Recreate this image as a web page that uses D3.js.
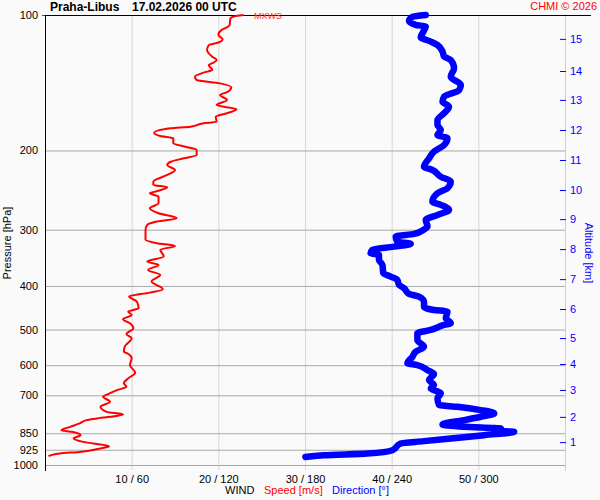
<!DOCTYPE html>
<html>
<head>
<meta charset="utf-8">
<script src="https://cdn.jsdelivr.net/npm/d3@7"></script>
<style>
	body { margin: 0; background: #fafafa; }
	svg { display: block; font-family: 'Liberation Sans', Arial, sans-serif; }
</style>
</head>
<body>
<svg width="600" height="500"></svg>
<script>
// pressure levels on the left axis
const pressureTicks = [200, 300, 400, 500, 600, 700, 850, 925, 1000];

// wind ticks (speed value) and their labels speed / direction
const windTicks = [10, 20, 30, 40, 50];
const windTickLabels = ['10 / 60', '20 / 120', '30 / 180', '40 / 240', '50 / 300'];

// altitude ticks on the right axis, km and the pressure they sit at
const altitudeKm = [1, 2, 3, 4, 5, 6, 7, 8, 9, 10, 11, 12, 13, 14, 15];
const altitudePressure = [889.5, 781.7, 681.1, 596.3, 522.3, 450.2, 386.3, 331.3, 284.2, 244.9, 210.0, 180.1, 154.4, 133.2, 113.0];

// wind speed profile [hPa], [m/s]
const speedPressure = [
	100.0, 100.4, 101.7, 105.2, 107.0, 107.9, 110.7, 113.2, 115.6, 116.6, 119.6, 123.8, 125.9, 128.0, 129.1, 132.5,
	134.3, 137.1, 139.5, 141.9, 144.8, 148.1, 150.6, 154.5, 158.5, 162.0, 165.3, 168.3, 172.6, 174.0, 177.1, 178.5,
	182.6, 185.8, 187.9, 192.8, 196.2, 199.5, 204.8, 208.2, 211.9, 215.4, 221.0, 226.7, 234.6, 238.6, 241.4, 246.9,
	248.9, 253.3, 262.0, 268.8, 275.7, 282.8, 287.8, 292.7, 300.2, 316.0, 321.4, 325.9, 332.6, 344.2, 353.2, 359.2,
	368.5, 378.0, 391.2, 406.7, 413.9, 422.4, 433.4, 448.3, 456.2, 464.0, 474.3, 484.1, 496.7, 511.5, 522.9, 545.9,
	560.1, 564.7, 579.4, 599.6, 623.7, 641.9, 658.5, 670.1, 681.6, 695.6, 705.3, 723.6, 742.4, 761.7, 772.0, 787.9,
	794.8, 808.4, 822.6, 836.7, 844.0, 858.4, 873.1, 888.4, 908.2, 919.0, 935.2, 942.9, 955.9
];
const speedValues = [
	22.9, 22.2, 21.4, 21.3, 20.8, 20.4, 20.0, 20.5, 19.7, 18.9, 18.7, 19.3, 19.8, 19.3, 18.9, 19.3,
	18.3, 17.3, 17.5, 20.2, 21.5, 21.1, 20.2, 21.0, 19.8, 22.1, 21.0, 19.7, 19.8, 18.3, 16.8, 14.5,
	12.6, 13.3, 14.8, 14.8, 16.2, 17.5, 17.5, 16.0, 14.5, 14.1, 15.0, 14.1, 12.5, 12.5, 14.1, 12.7,
	12.1, 13.1, 13.1, 12.1, 13.1, 15.2, 12.9, 11.8, 11.6, 11.6, 12.9, 15.0, 13.3, 13.7, 11.8, 13.1,
	11.9, 13.3, 12.3, 13.6, 12.1, 9.7, 10.6, 10.8, 9.6, 10.0, 9.0, 9.8, 10.2, 9.4, 10.0, 9.2,
	9.1, 9.5, 10.0, 9.8, 10.4, 9.6, 9.1, 9.4, 8.3, 7.3, 6.7, 7.5, 6.4, 7.1, 9.0, 6.0,
	4.8, 4.0, 2.9, 1.9, 3.1, 4.1, 3.3, 4.4, 7.4, 6.4, 4.0, 1.7, 0.4
];

// wind direction profile [hPa], [deg]
const dirPressure = [
	100.0, 100.9, 103.0, 105.2, 106.1, 109.8, 112.0, 114.6, 116.6, 120.6, 123.7, 125.9, 131.3, 137.1, 143.1, 146.8,
	151.9, 155.8, 159.9, 165.3, 171.2, 175.6, 180.1, 184.8, 187.9, 194.5, 201.2, 208.2, 217.3, 221.0, 228.7, 234.6,
	242.6, 248.9, 259.9, 264.2, 271.1, 278.1, 285.3, 295.3, 300.2, 306.5, 310.8, 318.9, 322.6, 327.1, 332.6, 338.3,
	341.2, 350.1, 359.2, 374.7, 381.3, 387.7, 397.7, 404.5, 416.5, 422.4, 433.4, 444.8, 452.3, 456.2, 471.9, 484.1,
	488.4, 501.1, 509.6, 527.5, 545.9, 560.1, 574.8, 594.5, 599.6, 615.2, 627.9, 647.6, 664.3, 675.6, 693.1, 711.1,
	735.9, 742.4, 755.0, 767.9, 781.4, 794.8, 812.5, 822.6, 829.4, 839.8, 844.0, 858.4, 873.1, 885.0, 895.5, 926.8,
	942.9, 951.2, 959.5
];
const dirValues = [
	263.6, 254.4, 252.0, 256.6, 263.6, 261.3, 260.1, 267.1, 271.7, 275.2, 276.3, 280.9, 283.2, 280.9, 287.9, 286.7,
	276.3, 275.2, 279.7, 276.3, 271.7, 271.7, 274.0, 271.7, 278.6, 276.3, 269.3, 265.9, 262.4, 268.2, 274.0, 280.9,
	278.6, 271.7, 268.2, 274.0, 279.7, 271.7, 263.6, 264.8, 262.0, 255.5, 242.8, 243.9, 253.2, 241.6, 226.6, 225.4,
	231.2, 231.2, 233.6, 234.2, 239.3, 243.9, 245.1, 248.5, 252.0, 258.9, 262.4, 262.4, 269.3, 278.6, 277.5, 280.9,
	276.3, 267.1, 257.8, 257.8, 262.4, 256.6, 254.4, 250.9, 257.8, 264.8, 269.3, 265.9, 269.3, 267.1, 274.0, 271.7,
	272.8, 285.6, 301.7, 311.0, 301.7, 290.2, 275.2, 290.2, 315.6, 311.0, 324.8, 304.0, 280.9, 262.4, 246.2, 240.5,
	223.1, 193.0, 180.3
];

const svg = d3.select('svg');
const width = +svg.attr('width');
const height = +svg.attr('height');

const margin = { top: 15, right: 35, bottom: 35, left: 45 };
const innerWidth = width - margin.left - margin.right;
const innerHeight = height - margin.top - margin.bottom;

const yScale = d3.scaleLog().domain([100, 1000]).range([margin.top, margin.top + innerHeight]);
const xSpeed = d3.scaleLinear().domain([0, 60]).range([margin.left, margin.left + innerWidth]);
const xDir = d3.scaleLinear().domain([0, 360]).range([margin.left, margin.left + innerWidth]);

const red = '#ff0000';
const blue = '#0000ff';

svg.append('rect').attr('width', width).attr('height', height).attr('fill', '#fafafa');

// d3 axes set their own font, drop it so the svg font applies
const styleAxis = (g, lineColor, textColor) => {
	g.attr('font-family', null).attr('font-size', 11);
	g.select('.domain').remove();
	g.selectAll('line').attr('stroke', lineColor);
	g.selectAll('text').attr('fill', textColor);
};

// vertical grid + bottom labels
svg.append('g')
	.attr('transform', `translate(0,${margin.top + innerHeight + 5})`)
	.call(
		d3
			.axisBottom(xSpeed)
			.tickValues(windTicks)
			.tickSize(-(innerHeight + 5))
			.tickPadding(5)
			.tickFormat((d, i) => windTickLabels[i])
	)
	.call(styleAxis, '#d8d8d8', '#000');

// right frame line
svg.append('line')
	.attr('x1', xSpeed(60) + 0.5).attr('x2', xSpeed(60) + 0.5)
	.attr('y1', margin.top).attr('y2', margin.top + innerHeight + 6)
	.attr('stroke', '#d0d0d0');

// horizontal grid + pressure labels
svg.append('g')
	.attr('transform', `translate(${margin.left},0)`)
	.call(d3.axisLeft(yScale).tickValues(pressureTicks).tickSize(-innerWidth).tickPadding(7).tickFormat(d3.format('d')))
	.call(styleAxis, '#a8a8a8', '#000');

// 100 hPa label with its red tick
svg.append('text')
	.attr('x', margin.left - 7).attr('y', yScale(100)).attr('dy', '0.32em')
	.attr('text-anchor', 'end').attr('font-size', 11).text('100');
svg.append('line')
	.attr('x1', margin.left - 3).attr('x2', margin.left)
	.attr('y1', yScale(100) + 0.5).attr('y2', yScale(100) + 0.5)
	.attr('stroke', red);

// altitude axis
svg.append('g')
	.attr('transform', `translate(${xSpeed(60) + 1},0)`)
	.call(d3.axisRight(yScale).tickValues(altitudePressure).tickSize(-6).tickPadding(4).tickFormat((d, i) => altitudeKm[i]))
	.call(styleAxis, blue, blue);

// frame: left black axis and top line
svg.append('line')
	.attr('x1', margin.left + 0.5).attr('x2', margin.left + 0.5)
	.attr('y1', margin.top).attr('y2', margin.top + innerHeight + 6)
	.attr('stroke', '#000');
svg.append('line')
	.attr('x1', margin.left).attr('x2', 591)
	.attr('y1', margin.top + 0.5).attr('y2', margin.top + 0.5)
	.attr('stroke', '#000');

// profiles
const dirLine = d3
	.line()
	.x(i => xDir(dirValues[i]))
	.y(i => yScale(dirPressure[i]))
	.curve(d3.curveMonotoneY);
svg.append('path')
	.attr('d', dirLine(d3.range(dirValues.length)))
	.attr('fill', 'none')
	.attr('stroke', blue)
	.attr('stroke-width', 6.5)
	.attr('stroke-linejoin', 'round')
	.attr('stroke-linecap', 'round');

const speedLine = d3
	.line()
	.x(i => xSpeed(speedValues[i]))
	.y(i => yScale(speedPressure[i]))
	.curve(d3.curveMonotoneY);
svg.append('path')
	.attr('d', speedLine(d3.range(speedValues.length)))
	.attr('fill', 'none')
	.attr('stroke', red)
	.attr('stroke-width', 2)
	.attr('stroke-linejoin', 'round');

svg.append('text').attr('x', 254).attr('y', 19).attr('font-size', 9).attr('fill', '#ff3333').text('MXWS');

// titles
svg.append('text').attr('x', 50).attr('y', 11).attr('font-size', 12).attr('font-weight', 'bold').text('Praha-Libus');
svg.append('text').attr('x', 132).attr('y', 11).attr('font-size', 12).attr('font-weight', 'bold').text('17.02.2026 00 UTC');
svg.append('text').attr('x', 597).attr('y', 10).attr('font-size', 11).attr('text-anchor', 'end').attr('fill', red).text('CHMI © 2026');

svg.append('text')
	.attr('transform', 'translate(11,243) rotate(-90)')
	.attr('text-anchor', 'middle').attr('font-size', 11).text('Pressure [hPa]');
svg.append('text')
	.attr('transform', 'translate(585,253) rotate(90)')
	.attr('text-anchor', 'middle').attr('font-size', 11).attr('fill', blue).text('Altitude [km]');

// bottom legend line
const legend = svg.append('text').attr('x', 225).attr('y', 494).attr('font-size', 11);
legend.append('tspan').text('WIND');
legend.append('tspan').attr('x', 264).attr('fill', red).text('Speed [m/s]');
legend.append('tspan').attr('x', 332).attr('fill', blue).text('Direction [°]');
</script>
</body>
</html>
